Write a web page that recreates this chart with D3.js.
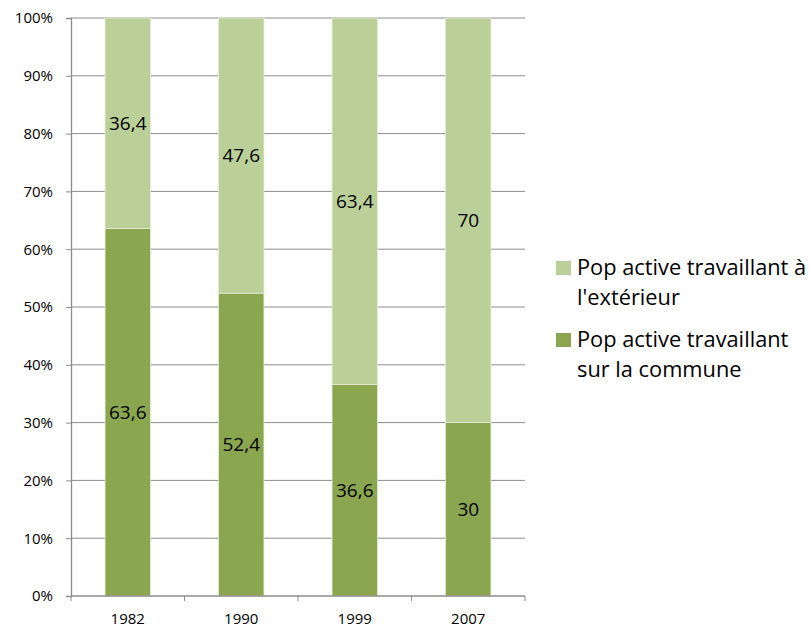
<!DOCTYPE html>
<html>
<head>
<meta charset="utf-8">
<script src="https://cdn.jsdelivr.net/npm/d3@7"></script>
<style>
  body { margin: 0; background: #fff; }
  svg { display: block; font-family: "Open Sans", sans-serif; }
</style>
</head>
<body>
<svg id="chart" width="810" height="627"></svg>
<script>
// Population active : lieu de travail (en %)
const years = ["1982", "1990", "1999", "2007"];
const exterieur = [36.4, 47.6, 63.4, 70];
const commune = [63.6, 52.4, 36.6, 30];
const yTicks = [0, 10, 20, 30, 40, 50, 60, 70, 80, 90, 100];
const seriesNames = ["Pop active travaillant à l'extérieur", "Pop active travaillant sur la commune"];
const legendLines = [["Pop active travaillant à", "l'extérieur"], ["Pop active travaillant", "sur la commune"]];
const colors = ["#BBD098", "#8AA64F"];

const svg = d3.select("#chart");
const margin = { left: 71, right: 285, top: 18, bottom: 31 };
const W = 810, H = 627;

const x = d3.scaleBand().domain(years)
  .range([margin.left, W - margin.right])
  .paddingInner(0.6).paddingOuter(0.3);
const y = d3.scaleLinear().domain([0, 100]).range([H - margin.bottom, margin.top]);

// horizontal gridlines
svg.append("g").selectAll("line").data(yTicks.slice(1)).join("line")
  .attr("x1", margin.left).attr("x2", W - margin.right)
  .attr("y1", d => y(d)).attr("y2", d => y(d))
  .attr("stroke", "#8c8c8c").attr("stroke-width", 1);

// stacked bars
const stack = years.map((yr, i) => ({ year: yr, parts: [
  { s: 1, y0: 0, y1: commune[i], v: commune[i] },
  { s: 0, y0: commune[i], y1: commune[i] + exterieur[i], v: exterieur[i] }
]}));

const groups = svg.append("g").selectAll("g").data(stack).join("g");
groups.selectAll("rect").data(d => d.parts.map(p => ({ ...p, year: d.year }))).join("rect")
  .attr("x", d => x(d.year))
  .attr("width", x.bandwidth())
  .attr("y", d => y(d.y1))
  .attr("height", d => y(d.y0) - y(d.y1))
  .attr("fill", d => colors[d.s])
  .attr("stroke", "#e4ecd6").attr("stroke-width", 0.8);

groups.selectAll("text").data(d => d.parts.map(p => ({ ...p, year: d.year }))).join("text")
  .attr("x", d => x(d.year) + x.bandwidth() / 2)
  .attr("y", d => y((d.y0 + d.y1) / 2))
  .attr("dy", "0.35em")
  .attr("text-anchor", "middle")
  .attr("font-size", 19)
  .attr("fill", "#000")
  .text(d => String(d.v).replace(".", ","));

// y axis
const yAxis = d3.axisLeft(y).tickValues(yTicks).tickSize(5).tickPadding(13)
  .tickFormat(d => d + "%");
const gy = svg.append("g").attr("transform", `translate(${margin.left},0)`).call(yAxis);
gy.select(".domain").attr("stroke", "#8c8c8c").attr("stroke-width", 1.3);
gy.selectAll(".tick line").attr("stroke", "#8c8c8c");
gy.selectAll(".tick text").attr("font-size", 15).attr("fill", "#000")
  .attr("font-family", "Open Sans, sans-serif");

// x axis with category separators
const gx = svg.append("g").attr("transform", `translate(0,${y(0)})`);
gx.append("line").attr("x1", margin.left).attr("x2", W - margin.right)
  .attr("stroke", "#8c8c8c").attr("stroke-width", 1.3);
const bounds = d3.range(years.length + 1).map(i => margin.left + i * (W - margin.right - margin.left) / years.length);
gx.selectAll("line.sep").data(bounds).join("line").attr("class", "sep")
  .attr("x1", d => d).attr("x2", d => d).attr("y1", 0).attr("y2", 5)
  .attr("stroke", "#8c8c8c");
gx.selectAll("text").data(years).join("text")
  .attr("x", d => x(d) + x.bandwidth() / 2)
  .attr("y", 28)
  .attr("text-anchor", "middle")
  .attr("font-size", 15)
  .attr("fill", "#000")
  .text(d => d);

// legend
const legend = svg.append("g").attr("transform", "translate(556,0)");
const entryTop = [261, 333];
legendLines.forEach((lines, i) => {
  legend.append("rect").attr("x", 0).attr("y", entryTop[i])
    .attr("width", 15).attr("height", 14).attr("fill", colors[i])
    .append("title").text(seriesNames[i]);
  lines.forEach((ln, j) => {
    legend.append("text").attr("x", 21).attr("y", entryTop[i] + 14 + j * 30)
      .attr("font-size", 21.8).attr("fill", "#000").text(ln);
  });
});
</script>
</body>
</html>
